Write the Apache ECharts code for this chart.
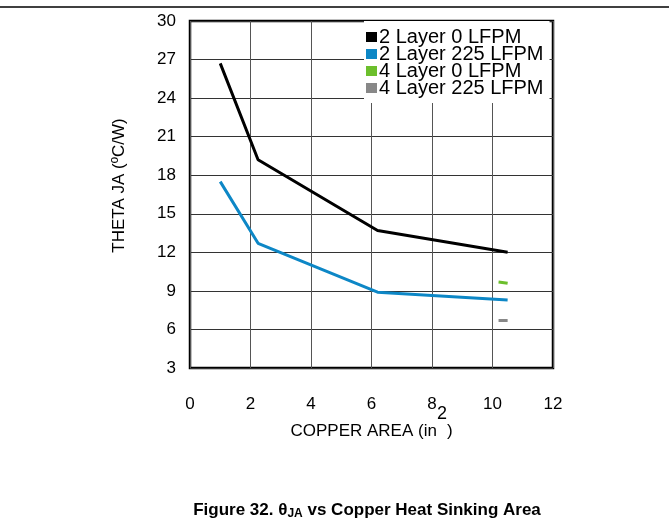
<!DOCTYPE html>
<html>
<head>
<meta charset="utf-8">
<script src="https://cdn.jsdelivr.net/npm/echarts@6/dist/echarts.min.js"></script>
<style>html,body{margin:0;padding:0;background:#fff}#c{width:669px;height:523px}</style>
</head>
<body>
<div id="c"></div>
<script>
var seriesNames = ['2 Layer 0 LFPM', '2 Layer 225 LFPM', '4 Layer 0 LFPM', '4 Layer 225 LFPM'];
var layer2_0lfpm = [[1, 26.7], [2.25, 19.2], [6.2, 13.7], [10.5, 12.0]];
var layer2_225lfpm = [[1, 17.5], [2.25, 12.7], [6.2, 8.9], [10.5, 8.3]];
var layer4_0lfpm = [[10.2, 9.7], [10.5, 9.6]];
var layer4_225lfpm = [[10.2, 6.7], [10.5, 6.7]];
var xTicks = [0, 2, 4, 6, 8, 10, 12];
var yTicks = [3, 6, 9, 12, 15, 18, 21, 24, 27, 30];
var colors = ['#000000', '#0d87c6', '#6cbf2c', '#888888'];
var FONT = 'Liberation Sans, Arial, sans-serif';

var chart = echarts.init(document.getElementById('c'));
var data = [layer2_0lfpm, layer2_225lfpm, layer4_0lfpm, layer4_225lfpm];
chart.setOption({
  animation: false,
  textStyle: {fontFamily: FONT},
  title: {
    text: '{b|Figure 32. θ}{s|JA}{b| vs Copper Heat Sinking Area}',
    left: 362, top: 495, textAlign: 'center',
    textStyle: {
      rich: {
        b: {fontFamily: FONT, fontWeight: 'bold', fontSize: 17, color: '#000'},
        s: {fontFamily: FONT, fontWeight: 'bold', fontSize: 12, color: '#000', padding: [8, 0, 0, 0]}
      }
    }
  },
  graphic: [{
    type: 'line', shape: {x1: 0, y1: 7, x2: 669, y2: 7},
    style: {stroke: '#000', lineWidth: 1.5}
  }],
  legend: {
    orient: 'vertical', left: 364, top: 21,
    padding: [6, 6, 5, 2],
    backgroundColor: '#fff',
    itemGap: -3, itemWidth: 11, itemHeight: 10,
    icon: 'rect',
    data: seriesNames,
    textStyle: {fontFamily: FONT, fontSize: 20, color: '#000', lineHeight: 17, padding: [0, 0, 0, -3]}
  },
  grid: {left: 190, top: 21, right: 116, bottom: 155, show: true, borderColor: '#000', borderWidth: 2.5},
  xAxis: {
    type: 'value', min: 0, max: 12, interval: 2,
    name: '{a|COPPER AREA (in}{s|2}{a|)}',
    nameLocation: 'middle', nameGap: 37, nameMoveOverlap: false,
    nameTextStyle: {rich: {
      a: {fontFamily: FONT, fontSize: 17, color: '#000'},
      s: {fontFamily: FONT, fontSize: 18, color: '#000', padding: [0, 0, 34, 0]}
    }},
    axisLine: {show: false}, axisTick: {show: false},
    axisLabel: {fontFamily: FONT, fontSize: 17, color: '#000', margin: 28},
    splitLine: {show: true, lineStyle: {color: '#555', width: 1}}
  },
  yAxis: {
    type: 'value', min: 3, max: 30, interval: 3,
    name: 'THETA JA (ºC/W)',
    nameLocation: 'middle', nameGap: 62, nameMoveOverlap: false,
    nameTextStyle: {fontFamily: FONT, fontSize: 17, color: '#000', padding: [0, 0, 0, 18]},
    axisLine: {show: false}, axisTick: {show: false},
    axisLabel: {fontFamily: FONT, fontSize: 17, color: '#000', margin: 14},
    splitLine: {show: true, lineStyle: {color: '#333', width: 1}}
  },
  series: data.map(function (d, i) {
    return {
      name: seriesNames[i], type: 'line', data: d,
      symbol: 'none', color: colors[i],
      lineStyle: {width: 3, color: colors[i]}
    };
  })
});
</script>
</body>
</html>
